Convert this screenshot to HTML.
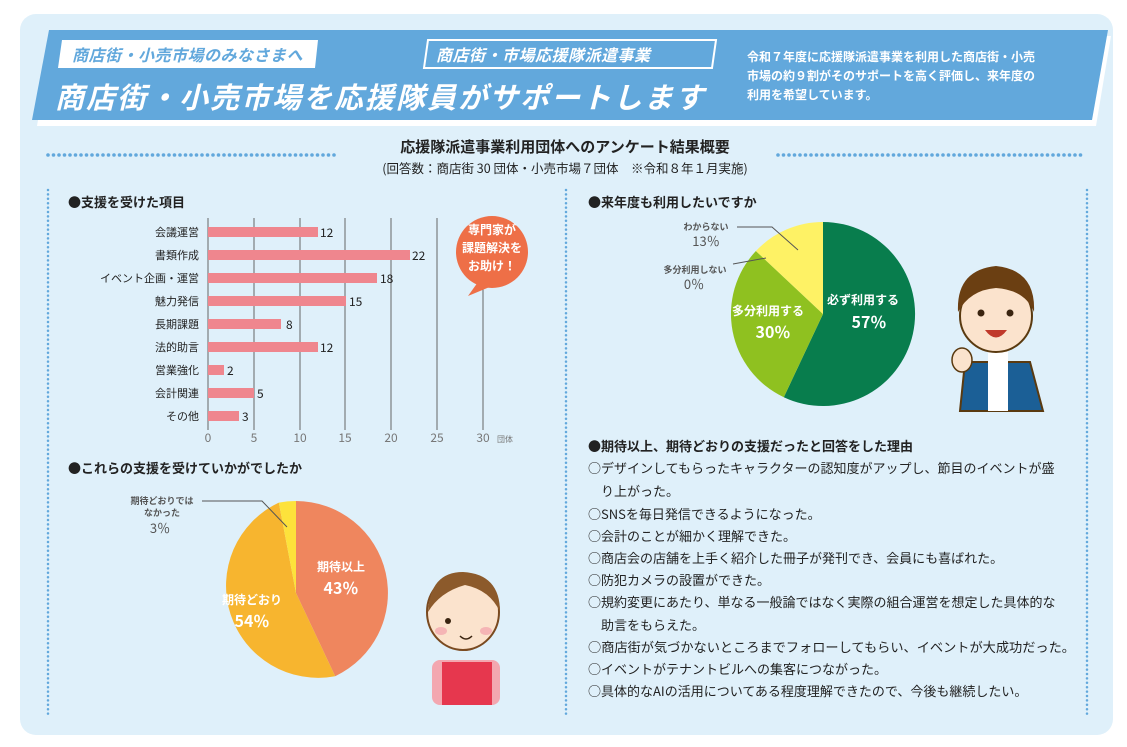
<!DOCTYPE html>
<html><head><meta charset="utf-8"><style>
body{margin:0;background:#fff;}
svg{display:block;font-family:"Noto Sans CJK JP","Liberation Sans",sans-serif;}
</style></head><body>
<svg width="1127" height="747" viewBox="0 0 1127 747" xmlns="http://www.w3.org/2000/svg">
<rect x="20" y="14" width="1093" height="721" rx="16" fill="#dff0fa"/>
<!-- banner -->
<polygon points="52,36 1111,36 1096,126 37,126" fill="#fff"/>
<polygon points="49,30 1108,30 1092,120 32,120" fill="#62a8dc"/>
<polygon points="62,40 318,40 315,68 58,68" fill="#fff"/>
<text x="72" y="61" font-size="16" font-weight="bold" font-style="italic" fill="#62a8dc" letter-spacing="0.5">商店街・小売市場のみなさまへ</text>
<polygon points="428,40 716,40 712,68 424,68" fill="none" stroke="#fff" stroke-width="2"/>
<text x="436" y="61" font-size="16" font-weight="bold" font-style="italic" fill="#fff" letter-spacing="0.5">商店街・市場応援隊派遣事業</text>
<text x="55" y="108" font-size="29" font-weight="bold" font-style="italic" fill="#fff" letter-spacing="2">商店街・小売市場を応援隊員がサポートします</text>
<text font-size="12" fill="#fff" font-weight="bold"><tspan x="747" y="61">令和７年度に応援隊派遣事業を利用した商店街・小売</tspan><tspan x="747" y="80">市場の約９割がそのサポートを高く評価し、来年度の</tspan><tspan x="747" y="99">利用を希望しています。</tspan></text>
<!-- section title -->
<text x="565" y="152" font-size="15" font-weight="bold" fill="#222" text-anchor="middle">応援隊派遣事業利用団体へのアンケート結果概要</text>
<text x="565" y="173" font-size="12.5" fill="#222" text-anchor="middle">(回答数：商店街 30 団体・小売市場７団体　※令和８年１月実施)</text>
<line x1="48" y1="155" x2="338" y2="155" stroke="#62a8dc" stroke-width="3.6" stroke-dasharray="0 5.5" stroke-linecap="round"/>
<line x1="778" y1="155" x2="1086" y2="155" stroke="#62a8dc" stroke-width="3.6" stroke-dasharray="0 5.5" stroke-linecap="round"/>
<g stroke="#62a8dc" stroke-width="2.5" stroke-dasharray="0 4.4" stroke-linecap="round">
<line x1="48" y1="190" x2="48" y2="716"/><line x1="566" y1="190" x2="566" y2="716"/><line x1="1087" y1="190" x2="1087" y2="716"/>
</g>
<!-- bar chart -->
<text x="68" y="207" font-size="13" font-weight="bold" fill="#222">●支援を受けた項目</text>
<g stroke="#666" stroke-width="1">
<line x1="208" y1="218" x2="208" y2="430"/><line x1="254" y1="218" x2="254" y2="430"/><line x1="300" y1="218" x2="300" y2="430"/><line x1="345" y1="218" x2="345" y2="430"/><line x1="391" y1="218" x2="391" y2="430"/><line x1="437" y1="218" x2="437" y2="430"/><line x1="483" y1="218" x2="483" y2="430"/>
</g>
<g fill="#ef868e">
<rect x="208" y="227" width="110" height="10"/><rect x="208" y="250" width="202" height="10"/><rect x="208" y="273" width="169" height="10"/><rect x="208" y="296" width="138" height="10"/><rect x="208" y="319" width="73" height="10"/><rect x="208" y="342" width="110" height="10"/><rect x="208" y="365" width="16" height="10"/><rect x="208" y="388" width="46" height="10"/><rect x="208" y="411" width="31" height="10"/>
</g>
<g font-size="11" fill="#222" text-anchor="end">
<text x="199" y="236">会議運営</text><text x="199" y="259">書類作成</text><text x="199" y="282">イベント企画・運営</text><text x="199" y="305">魅力発信</text><text x="199" y="328">長期課題</text><text x="199" y="351">法的助言</text><text x="199" y="374">営業強化</text><text x="199" y="397">会計関連</text><text x="199" y="420">その他</text>
</g>
<g font-size="12" fill="#222">
<text x="320" y="237">12</text><text x="412" y="260">22</text><text x="380" y="283">18</text><text x="349" y="306">15</text><text x="286" y="329">8</text><text x="320" y="352">12</text><text x="227" y="375">2</text><text x="257" y="398">5</text><text x="242" y="421">3</text>
</g>
<g font-size="12" fill="#777" text-anchor="middle">
<text x="208" y="442">0</text><text x="254" y="442">5</text><text x="300" y="442">10</text><text x="345" y="442">15</text><text x="391" y="442">20</text><text x="437" y="442">25</text><text x="483" y="442">30</text>
</g>
<text x="497" y="442" font-size="8" fill="#777">団体</text>
<circle cx="492" cy="252" r="36" fill="#ee6f47"/>
<polygon points="478,282 468,296 492,286" fill="#ee6f47"/>
<text font-size="12" font-weight="bold" fill="#fff" text-anchor="middle"><tspan x="492" y="234">専門家が</tspan><tspan x="492" y="252">課題解決を</tspan><tspan x="492" y="270">お助け！</tspan></text>
<!-- pie 2 -->
<text x="68" y="473" font-size="13" font-weight="bold" fill="#222">●これらの支援を受けていかがでしたか</text>
<path d="M296,593 L296,501 A92,92 0 0,1 335.2,676.2 Z" fill="#ef865e"/>
<path d="M296,593 L335.2,676.2 A92,92 0 0,1 278.8,502.6 Z" fill="#f7b52f"/>
<path d="M296,593 L278.8,502.6 A92,92 0 0,1 296,501 Z" fill="#fde23b"/>
<polyline points="202,501 262,501 287,527" fill="none" stroke="#555" stroke-width="1"/>
<text font-size="9" font-weight="bold" fill="#555" text-anchor="middle"><tspan x="162" y="504">期待どおりでは</tspan><tspan x="162" y="516">なかった</tspan></text>
<text x="160" y="533" font-size="13" fill="#555" text-anchor="middle">3％</text>
<text x="341" y="571" font-size="12" font-weight="bold" fill="#fff" text-anchor="middle">期待以上</text>
<text x="341" y="594" font-size="16" font-weight="bold" fill="#fff" text-anchor="middle">43％</text>
<text x="252" y="604" font-size="12" font-weight="bold" fill="#fff" text-anchor="middle">期待どおり</text>
<text x="252" y="627" font-size="16" font-weight="bold" fill="#fff" text-anchor="middle">54％</text>
<!-- girl -->
<g>
<circle cx="466" cy="633" r="18" fill="#8c5a2b"/>
<rect x="432" y="660" width="68" height="45" rx="8" fill="#f3a7b0"/>
<rect x="442" y="662" width="50" height="43" fill="#e6374e"/>
<ellipse cx="463" cy="612" rx="36" ry="38" fill="#fbe3cd" stroke="#7a4a20" stroke-width="2"/>
<path d="M428,612 Q430,572 463,572 Q500,574 500,612 Q490,590 465,585 Q440,592 428,612Z" fill="#8c5a2b"/>
<circle cx="448" cy="621" r="3" fill="#3a2410"/>
<ellipse cx="441" cy="631" rx="6" ry="4" fill="#f5b5b5"/>
<ellipse cx="486" cy="631" rx="6" ry="4" fill="#f5b5b5"/>
<path d="M460,636 Q466,642 472,636" fill="none" stroke="#3a2410" stroke-width="1.5"/>
</g>
<!-- pie 1 -->
<text x="588" y="207" font-size="13" font-weight="bold" fill="#222">●来年度も利用したいですか</text>
<path d="M823,314 L823,222 A92,92 0 1,1 783.8,397.2 Z" fill="#087d4d"/>
<path d="M823,314 L783.8,397.2 A92,92 0 0,1 755.9,251 Z" fill="#8fc120"/>
<path d="M823,314 L755.9,251 A92,92 0 0,1 823,222 Z" fill="#fef265"/>
<polyline points="737,227 772,227 798,250" fill="none" stroke="#555" stroke-width="1"/>
<polyline points="733,264 766,258" fill="none" stroke="#555" stroke-width="1"/>
<text x="706" y="230" font-size="9" font-weight="bold" fill="#555" text-anchor="middle">わからない</text>
<text x="706" y="246" font-size="13" fill="#555" text-anchor="middle">13％</text>
<text x="695" y="273" font-size="9" font-weight="bold" fill="#555" text-anchor="middle">多分利用しない</text>
<text x="694" y="289" font-size="13" fill="#555" text-anchor="middle">0％</text>
<text x="863" y="304" font-size="12" font-weight="bold" fill="#fff" text-anchor="middle">必ず利用する</text>
<text x="869" y="328" font-size="16" font-weight="bold" fill="#fff" text-anchor="middle">57％</text>
<text x="768" y="315" font-size="12" font-weight="bold" fill="#fff" text-anchor="middle">多分利用する</text>
<text x="773" y="338" font-size="16" font-weight="bold" fill="#fff" text-anchor="middle">30％</text>
<!-- boy -->
<g>
<path d="M960,411 L965,362 L1030,362 L1043,411Z" fill="#1b5f96" stroke="#5a3a10" stroke-width="2"/>
<rect x="988" y="350" width="20" height="61" fill="#fff"/>
<ellipse cx="996" cy="316" rx="36" ry="36" fill="#fbe3cd" stroke="#5a3a10" stroke-width="2"/>
<path d="M958,312 Q956,270 996,266 Q1036,270 1034,312 Q1025,290 996,288 Q970,290 958,312Z" fill="#6b3f12"/>
<circle cx="981" cy="313" r="3.5" fill="#3a2410"/><circle cx="1010" cy="313" r="3.5" fill="#3a2410"/>
<path d="M985,330 Q996,345 1007,330Z" fill="#c0392b"/>
<ellipse cx="962" cy="360" rx="10" ry="12" fill="#fbe3cd" stroke="#5a3a10" stroke-width="1.5"/>
</g>
<!-- reasons -->
<text x="588" y="451" font-size="13" font-weight="bold" fill="#222">●期待以上、期待どおりの支援だったと回答をした理由</text>
<g font-size="13" fill="#222">
<text x="588" y="473">○デザインしてもらったキャラクターの認知度がアップし、節目のイベントが盛</text>
<text x="601" y="496">り上がった。</text>
<text x="588" y="519">○SNSを毎日発信できるようになった。</text>
<text x="588" y="541">○会計のことが細かく理解できた。</text>
<text x="588" y="563">○商店会の店舗を上手く紹介した冊子が発刊でき、会員にも喜ばれた。</text>
<text x="588" y="585">○防犯カメラの設置ができた。</text>
<text x="588" y="607">○規約変更にあたり、単なる一般論ではなく実際の組合運営を想定した具体的な</text>
<text x="601" y="630">助言をもらえた。</text>
<text x="588" y="652" textLength="487" lengthAdjust="spacingAndGlyphs">○商店街が気づかないところまでフォローしてもらい、イベントが大成功だった。</text>
<text x="588" y="674">○イベントがテナントビルへの集客につながった。</text>
<text x="588" y="696">○具体的なAIの活用についてある程度理解できたので、今後も継続したい。</text>
</g>
</svg>
</body></html>
